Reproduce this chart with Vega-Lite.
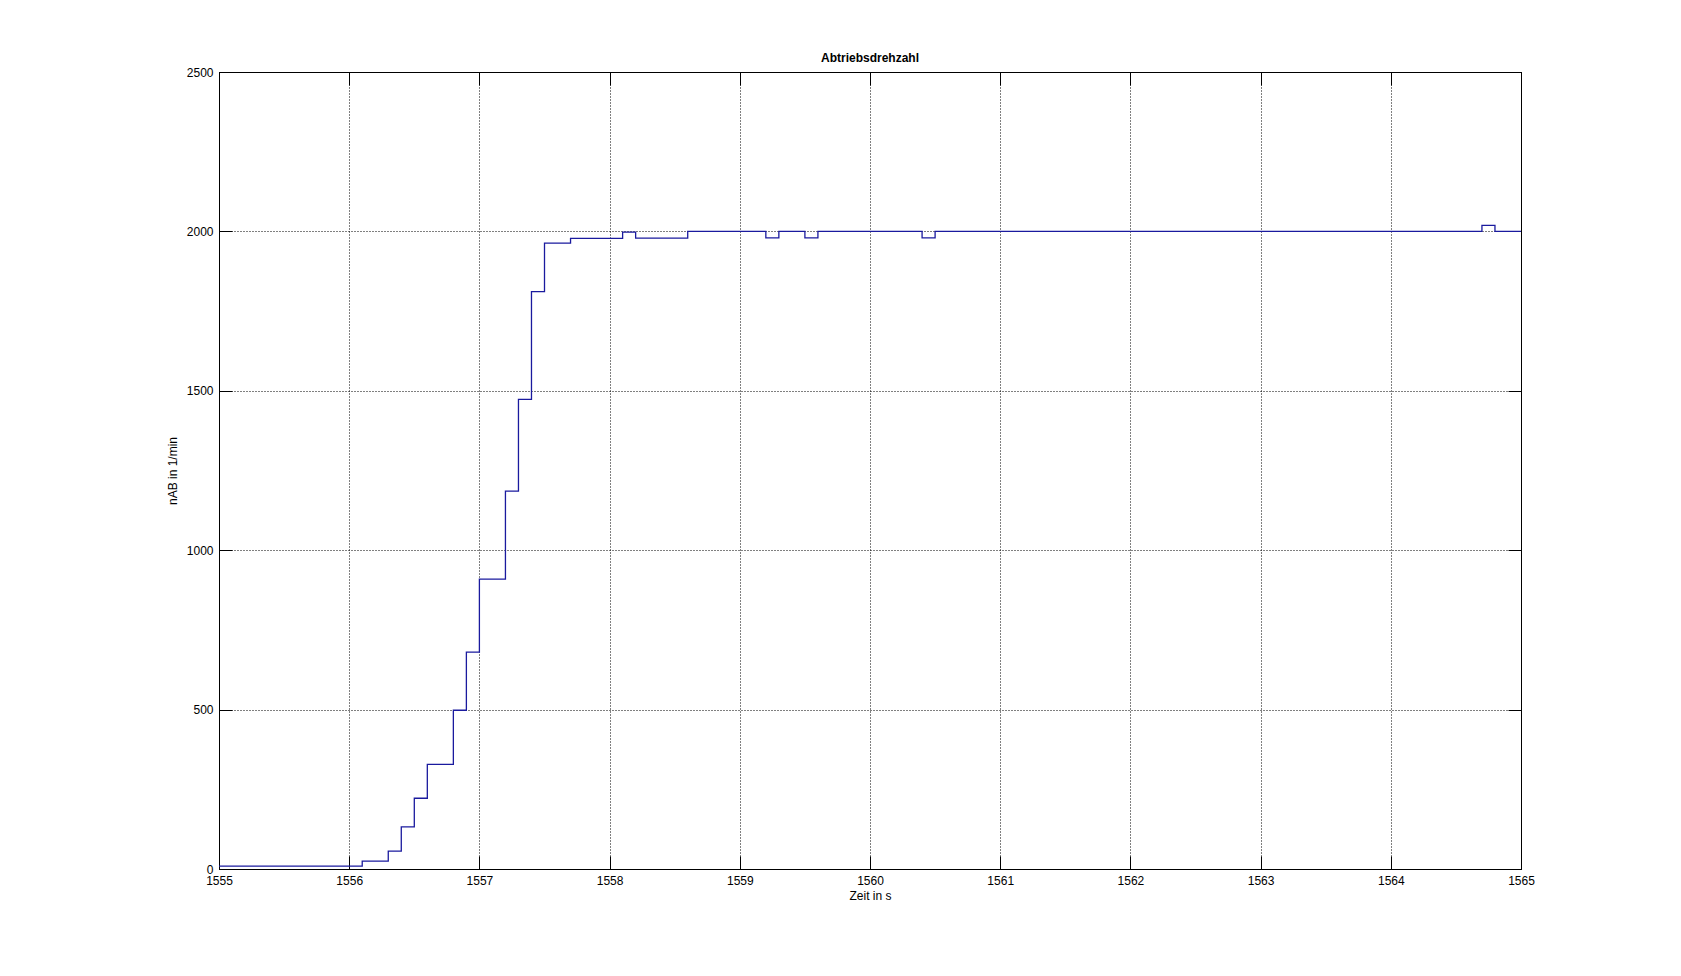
{
  "$schema": "https://vega.github.io/schema/vega-lite/v6.json",
  "width": 1302,
  "height": 797,
  "autosize": {"type": "none"},
  "padding": {"left": 219, "top": 72, "right": 160, "bottom": 107},
  "background": "white",
  "title": {"text": "Abtriebsdrehzahl", "fontSize": 12, "fontWeight": "bold", "font": "Liberation Sans", "anchor": "middle", "baseline": "alphabetic", "offset": -8, "color": "black"},
  "config": {
    "view": {"stroke": "black", "strokeWidth": 1},
    "axis": {
      "domainColor": "black", "tickColor": "black", "tickSize": -13, "labelFont": "Liberation Sans", "labelFontSize": 12, "labelColor": "black", "labelFlush": false,
      "titleFont": "Liberation Sans", "titleFontSize": 12, "titleFontWeight": "normal", "titleColor": "black",
      "gridColor": "black", "gridDash": [1, 2], "gridOpacity": 1, "gridWidth": 1
    }
  },
  "data": {"values": [
    {"t": 1555.0, "n": 9},
    {"t": 1556.1, "n": 25},
    {"t": 1556.3, "n": 56},
    {"t": 1556.4, "n": 132},
    {"t": 1556.5, "n": 222},
    {"t": 1556.6, "n": 328},
    {"t": 1556.8, "n": 498},
    {"t": 1556.9, "n": 680},
    {"t": 1557.0, "n": 909},
    {"t": 1557.2, "n": 1185},
    {"t": 1557.3, "n": 1473},
    {"t": 1557.4, "n": 1811},
    {"t": 1557.5, "n": 1963},
    {"t": 1557.7, "n": 1978},
    {"t": 1558.1, "n": 1998},
    {"t": 1558.2, "n": 1979},
    {"t": 1558.6, "n": 2000},
    {"t": 1559.2, "n": 1980},
    {"t": 1559.3, "n": 2000},
    {"t": 1559.5, "n": 1980},
    {"t": 1559.6, "n": 2000},
    {"t": 1560.4, "n": 1980},
    {"t": 1560.5, "n": 2000},
    {"t": 1564.7, "n": 2019},
    {"t": 1564.8, "n": 2000},
    {"t": 1565.0, "n": 2000}
  ]},
  "layer": [
    {
      "mark": {"type": "line", "interpolate": "step-after", "color": "#1a1a9e", "strokeWidth": 1.3},
      "encoding": {
        "x": {"field": "t", "type": "quantitative", "scale": {"domain": [1555, 1565], "nice": false, "zero": false},
              "axis": {"orient": "bottom", "values": [1555,1556,1557,1558,1559,1560,1561,1562,1563,1564,1565], "format": "d", "grid": true, "title": "Zeit in s", "labelPadding": 19, "titlePadding": 4}},
        "y": {"field": "n", "type": "quantitative", "scale": {"domain": [0, 2500], "nice": false},
              "axis": {"orient": "left", "values": [0,500,1000,1500,2000,2500], "format": "d", "grid": true, "title": "nAB in 1/min", "labelPadding": 19, "titlePadding": 7}}
      }
    },
    {
      "mark": {"type": "line", "opacity": 0},
      "encoding": {
        "x": {"field": "t", "type": "quantitative", "scale": {"domain": [1555, 1565], "nice": false, "zero": false},
              "axis": {"orient": "top", "values": [1555,1556,1557,1558,1559,1560,1561,1562,1563,1564,1565], "labels": false, "grid": false, "title": null}},
        "y": {"field": "n", "type": "quantitative", "scale": {"domain": [0, 2500], "nice": false},
              "axis": {"orient": "right", "values": [0,500,1000,1500,2000,2500], "labels": false, "grid": false, "title": null}}
      }
    }
  ],
  "resolve": {"axis": {"x": "independent", "y": "independent"}}
}
